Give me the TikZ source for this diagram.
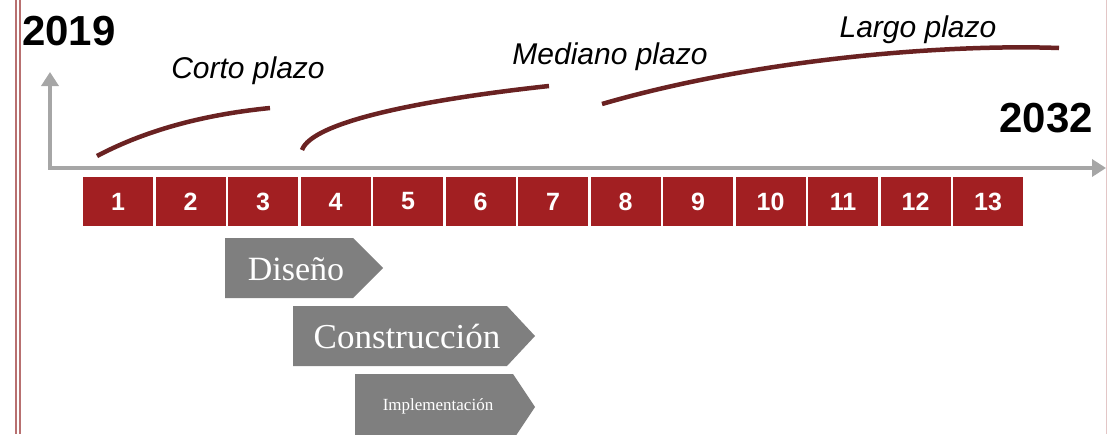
\documentclass[tikz,border=0pt]{standalone}
\usepackage{fontspec}
\setmainfont{Liberation Serif}
\setsansfont{Liberation Sans}
\usetikzlibrary{arrows.meta}
\definecolor{yearred}{HTML}{A21F22}
\definecolor{termred}{HTML}{6A2222}
\definecolor{axisgray}{HTML}{A6A6A6}
\definecolor{phasegray}{HTML}{7F7F7F}
\definecolor{edgered}{HTML}{B87070}
\tikzset{
  yearbox/.style={fill=yearred, text=white, minimum width=70, minimum height=49, inner sep=0pt,
    font=\sffamily\bfseries\fontsize{25}{25}\selectfont},
  yearlabel/.style={anchor=base, inner sep=0pt, font=\sffamily\bfseries\fontsize{42}{42}\selectfont},
  termlabel/.style={anchor=base, inner sep=0pt, font=\sffamily\itshape\fontsize{30}{30}\selectfont},
  termline/.style={draw=termred, line width=4.5},
  phase/.style={fill=phasegray},
  phaselabel/.style={anchor=base, inner sep=0pt, text=white},
}
\begin{document}
\begin{tikzpicture}[x=1pt,y=-1pt]
\useasboundingbox (0,0) rectangle (1107,434);
% page edges
\draw[edgered, line width=1.2] (16,0) -- (16,434);
\draw[edgered, line width=1.2] (20,0) -- (20,434);
\draw[edgered!40, line width=1] (1106,0) -- (1106,434);
% axes
\coordinate (ytop) at (50,72);
\coordinate (origin) at (50,168);
\coordinate (xend) at (1106,168);
\draw[axisgray, line width=4.5, {Triangle[length=14,width=17]}-{Triangle[length=14,width=17]}]
  (ytop) -- (origin) -- (xend);
\node[yearlabel] (y2019) at (69,45) {2019};
\node[yearlabel] (y2032) at (1046,132) {2032};
% years
\foreach \i in {1,...,13}
  \node[yearbox] (n\i) at ({118+72.5*(\i-1)},201.5) {\i};
% terms
\coordinate (c0) at (97,156);
\coordinate (c1) at (270,108);
\coordinate (m0) at (302,150);
\coordinate (m1) at (549,86);
\coordinate (l0) at (602,104);
\coordinate (l1) at (1059,48);
\draw[termline] (c0) .. controls (150,128) and (210,114) .. (c1);
\draw[termline] (m0) .. controls (312,122) and (420,100) .. (m1);
\draw[termline] (l0) .. controls (760,58) and (950,44) .. (l1);
\node[termlabel] (corto) at (248,78) {Corto plazo};
\node[termlabel] (mediano) at (610,64) {Mediano plazo};
\node[termlabel] (largo) at (918,37) {Largo plazo};
% phases
\fill[phase] (225,238) -- (353,238) -- (383,268) -- (353,298) -- (225,298) -- cycle;
\fill[phase] (293,306) -- (507,306) -- (535,336) -- (507,366) -- (293,366) -- cycle;
\fill[phase] (355,374) -- (513,374) -- (535,407) -- (513,440) -- (355,440) -- cycle;
\node[phaselabel, font=\fontsize{34}{34}\selectfont] (diseno) at (296,280) {Diseño};
\node[phaselabel, font=\fontsize{35}{35}\selectfont] (constr) at (407,348) {Construcción};
\node[phaselabel, font=\fontsize{17}{17}\selectfont] (impl) at (438,410) {Implementación};
\end{tikzpicture}
\end{document}
